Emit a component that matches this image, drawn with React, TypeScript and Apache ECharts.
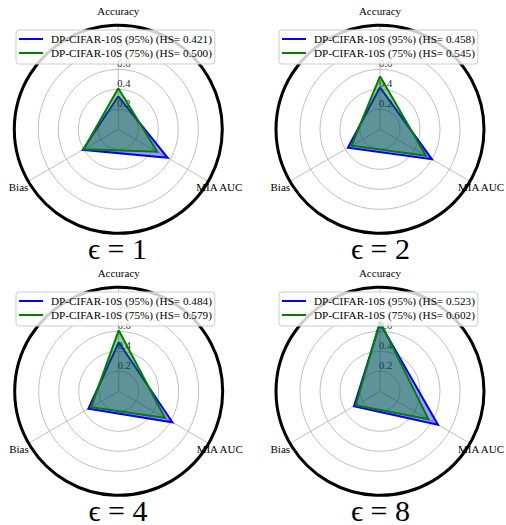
import React, { useEffect, useRef } from 'react';
import * as echarts from 'echarts';

// ---------- data ----------
const categories = ['Accuracy', 'MIA AUC', 'Bias'];
const epsilons = ['1', '2', '4', '8'];
const hs95 = ['0.421', '0.458', '0.484', '0.523'];
const hs75 = ['0.500', '0.545', '0.579', '0.602'];
// values in category order: [Accuracy, MIA AUC, Bias]
const values95 = [
  [0.33, 0.57, 0.41],
  [0.42, 0.6, 0.37],
  [0.49, 0.62, 0.35],
  [0.68, 0.67, 0.3],
];
const values75 = [
  [0.41, 0.45, 0.4],
  [0.53, 0.53, 0.33],
  [0.61, 0.535, 0.32],
  [0.7, 0.56, 0.28],
];
const radiusTickLabels = ['0.2', '0.4', '0.6', '0.8'];
const radiusMax = 1.04;
const radiusInterval = 0.2;

// ---------- layout ----------
const SERIF = '"Liberation Serif", "DejaVu Serif", serif';
const centers: [number, number][] = [
  [118.3, 129.3],
  [380, 129.3],
  [118.7, 391.3],
  [380, 391.3],
];
const legendPos = [
  [16, 30],
  [279, 30],
  [16, 292],
  [279, 292],
];
const titleX = [117.5, 380.5, 118, 380.5];
const titleY = [231, 231, 493, 493];
// radar (counter-clockwise) order: Accuracy (top), Bias (lower left), MIA AUC (lower right)
const radarOrder = [0, 2, 1];
const step = 360 / categories.length;

const name95 = (i: number) => `DP-CIFAR-10S (95%) (HS= ${hs95[i]})`;
const name75 = (i: number) => `DP-CIFAR-10S (75%) (HS= ${hs75[i]})`;
const labelStyleKeys = ['top', 'right', 'left'];

export default function App() {
  const ref = useRef<HTMLDivElement>(null);
  useEffect(() => {
    if (!ref.current) return;
    const chart = echarts.init(ref.current, null, { renderer: 'svg' });
    const gray = '#b0b0b0';
    const none = 'rgba(0,0,0,0)';
    const splitColors = [none, gray, gray, gray, gray, none, none];
    const font = { fontFamily: SERIF, fontSize: 11, color: '#000', lineHeight: 13 };

    const mk = (i: number, name: string, vals: number[], color: string, alpha: number, z: number) => ({
      type: 'radar',
      name,
      radarIndex: i,
      symbol: 'none',
      z,
      color,
      itemStyle: { color },
      lineStyle: { color, width: 2, join: 'miter', opacity: 1 },
      areaStyle: { color, opacity: alpha },
      data: [{ name, value: radarOrder.map((k) => vals[k]) }],
    });

    const series: any[] = [];
    centers.forEach((_, i) => {
      series.push(mk(i, name95(i), values95[i], '#0000ff', 0.38, 2));
      series.push(mk(i, name75(i), values75[i], '#008000', 0.4, 3));
    });

    chart.setOption({
      animation: false,
      backgroundColor: '#ffffff',
      textStyle: { fontFamily: SERIF },
      title: epsilons.map((e, i) => ({
        text: `ϵ = ${e}`,
        left: titleX[i],
        top: titleY[i],
        textAlign: 'center',
        padding: 0,
        textStyle: {
          fontFamily: SERIF,
          fontSize: 30,
          fontWeight: 'normal',
          color: '#000',
          lineHeight: 34,
        },
      })),
      legend: centers.map((_, i) => ({
        data: [name95(i), name75(i)],
        orient: 'vertical',
        left: legendPos[i][0],
        top: legendPos[i][1],
        padding: [2, 3, 4, 3],
        itemGap: 0,
        itemWidth: 24,
        itemHeight: 2,
        icon: 'rect',
        selectedMode: false,
        backgroundColor: 'rgba(255,255,255,0.8)',
        borderColor: '#cccccc',
        borderWidth: 1,
        borderRadius: 3,
        textStyle: {
          fontFamily: SERIF,
          fontSize: 11.2,
          lineHeight: 14,
          color: '#000',
          padding: [0, 0, 0, 3],
        },
        z: 10,
      })),
      polar: centers.map((c) => ({ center: c, radius: 104 })),
      radar: centers.map((c) => ({
        center: c,
        radius: 104,
        startAngle: 90,
        shape: 'circle',
        indicator: radarOrder.map((k) => ({ name: categories[k], min: 0, max: radiusMax })),
        axisName: { show: false },
        axisLine: { show: false },
        axisTick: { show: false },
        axisLabel: { show: false },
        splitLine: { show: false },
        splitArea: { show: false },
      })),
      angleAxis: centers.map((_, i) => ({
        polarIndex: i,
        type: 'value',
        min: 0,
        max: 360,
        interval: step,
        startAngle: 90,
        clockwise: true,
        axisLine: { show: true, lineStyle: { color: '#000', width: 3 } },
        axisTick: { show: false },
        axisLabel: {
          show: true,
          margin: -14,
          ...font,
          formatter: (v: number) => {
            const k = Math.round(v / step);
            if (k >= categories.length) return '';
            return `{${labelStyleKeys[k]}|${categories[k]}}`;
          },
          rich: {
            top: { ...font, padding: [0, 0, 43, 0] },
            right: { ...font, padding: [12, 0, 0, 0] },
            left: { ...font, padding: [12, 12, 0, 0] },
          },
        },
        splitLine: { show: true, lineStyle: { color: gray, width: 0.8 } },
      })),
      radiusAxis: centers.map((_, i) => ({
        polarIndex: i,
        type: 'value',
        min: 0,
        max: radiusMax,
        interval: radiusInterval,
        axisLine: { show: false },
        axisTick: { show: false },
        axisLabel: {
          show: true,
          margin: 1,
          align: 'left',
          verticalAlign: 'bottom',
          color: '#262626',
          fontFamily: SERIF,
          fontSize: 10.5,
          formatter: (v: number) => {
            const s = v.toFixed(1);
            return radiusTickLabels.includes(s) && Math.abs(v - parseFloat(s)) < 1e-6 ? s : '';
          },
        },
        splitLine: { show: true, lineStyle: { color: splitColors, width: 0.8 } },
      })),
      series,
    });
    return () => chart.dispose();
  }, []);
  return (
    <div
      ref={ref}
      style={{ position: 'absolute', left: 0, top: 0, width: 506, height: 525, background: '#fff' }}
    />
  );
}
